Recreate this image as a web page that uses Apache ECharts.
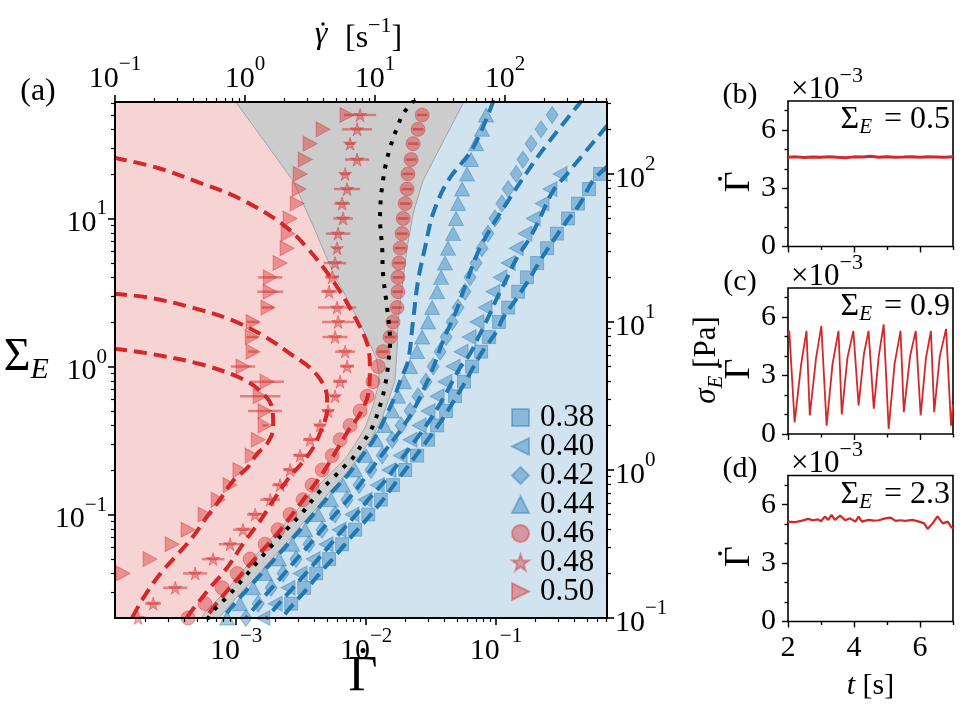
<!DOCTYPE html>
<html><head><meta charset="utf-8">
<script src="https://cdn.jsdelivr.net/npm/echarts@6/dist/echarts.min.js"></script>
<style>html,body{margin:0;padding:0;background:#fff}#c{width:960px;height:720px}</style>
</head><body><div id="c"></div>
<script>
// ---------- DATA (Gamma_dot, Sigma_E) ----------
const phi038 = [[2.65e-3,0.025],[3.34e-3,0.032],[4.13e-3,0.04],[5.19e-3,0.05],[6.54e-3,0.063],[8.23e-3,0.079],[1.04e-2,0.1],[1.3e-2,0.126],[1.61e-2,0.158],[2.0e-2,0.2],[2.47e-2,0.25],[3.0e-2,0.32],[3.52e-2,0.4],[4.13e-2,0.5],[4.84e-2,0.63],[5.67e-2,0.79],[6.54e-2,1],[7.67e-2,1.26],[8.84e-2,1.58],[0.1055,2],[0.124,2.5],[0.148,3.2],[0.173,4],[0.207,5],[0.247,6.3],[0.294,7.9],[0.358,10],[0.427,12.6],[0.519,15.8],[0.631,20]];
const phi040 = [[1.61e-3,0.02],[2.0e-3,0.025],[2.51e-3,0.032],[3.11e-3,0.04],[3.91e-3,0.05],[4.92e-3,0.063],[6.2e-3,0.079],[7.8e-3,0.1],[9.82e-3,0.126],[1.22e-2,0.158],[1.5e-2,0.2],[1.83e-2,0.25],[2.18e-2,0.32],[2.56e-2,0.4],[3.0e-2,0.5],[3.52e-2,0.63],[4.05e-2,0.79],[4.67e-2,1],[5.38e-2,1.26],[6.2e-2,1.58],[7.14e-2,2],[8.23e-2,2.5],[9.48e-2,3.2],[0.107,4],[0.124,5],[0.143,6.3],[0.167,7.9],[0.193,10],[0.226,12.6],[0.26,15.8],[0.311,20]];
const phi042 = [[1.19e-3,0.02],[1.48e-3,0.025],[1.86e-3,0.032],[2.3e-3,0.04],[2.89e-3,0.05],[3.64e-3,0.063],[4.59e-3,0.079],[5.77e-3,0.1],[7.14e-3,0.126],[8.84e-3,0.158],[1.09e-2,0.2],[1.33e-2,0.25],[1.59e-2,0.32],[1.86e-2,0.4],[2.18e-2,0.5],[2.51e-2,0.63],[2.89e-2,0.79],[3.28e-2,1],[3.71e-2,1.26],[4.13e-2,1.58],[4.59e-2,2],[5.1e-2,2.5],[5.77e-2,3.2],[6.31e-2,4],[7.02e-2,5],[7.8e-2,6.3],[8.67e-2,7.9],[9.82e-2,10],[0.111,12.6],[0.124,15.8],[0.143,20],[0.161,25],[0.186,32],[0.222,40],[0.27,50],[0.34,63]];
const phi044 = [[8.53e-4,0.02],[1.07e-3,0.025],[1.35e-3,0.032],[1.67e-3,0.04],[2.14e-3,0.05],[2.7e-3,0.063],[3.4e-3,0.079],[4.27e-3,0.1],[5.38e-3,0.126],[6.65e-3,0.158],[8.23e-3,0.2],[1.0e-2,0.25],[1.19e-2,0.32],[1.38e-2,0.4],[1.59e-2,0.5],[1.76e-2,0.63],[1.96e-2,0.79],[2.18e-2,1],[2.47e-2,1.26],[2.7e-2,1.58],[3.0e-2,2],[3.22e-2,2.5],[3.52e-2,3.2],[3.78e-2,4],[4.05e-2,5],[4.27e-2,6.3],[4.67e-2,7.9],[4.92e-2,10],[5.1e-2,12.6],[5.48e-2,15.8],[5.98e-2,20],[6.42e-2,25],[7.02e-2,32],[7.8e-2,40],[8.38e-2,50],[9.31e-2,63]];
const phi046 = [[4.27e-4,0.02],[5.77e-4,0.025],[7.8e-4,0.032],[1.02e-3,0.04],[1.28e-3,0.05],[1.67e-3,0.063],[2.1e-3,0.079],[2.6e-3,0.1],[3.28e-3,0.126],[3.84e-3,0.158],[4.59e-3,0.2],[5.48e-3,0.25],[6.31e-3,0.32],[7.53e-3,0.4],[8.99e-3,0.5],[1.02e-2,0.63],[1.13e-2,0.79],[1.24e-2,1],[1.35e-2,1.26],[1.53e-2,1.58],[1.61e-2,2],[1.73e-2,2.5],[1.76e-2,3.2],[1.76e-2,4],[1.79e-2,5],[1.83e-2,6.3],[1.89e-2,7.9],[1.93e-2,10],[2.0e-2,12.6],[2.07e-2,15.8],[2.1e-2,20],[2.22e-2,25],[2.3e-2,32],[2.51e-2,40],[2.7e-2,50],[3.11e-2,63]];
const phi048 = [[1.76e-4,0.02],[2.3e-4,0.025],[3.4e-4,0.032],[4.84e-4,0.04],[6.65e-4,0.05],[8.99e-4,0.063],[1.13e-3,0.079],[1.4e-3,0.1],[1.83e-3,0.126],[2.18e-3,0.158],[2.6e-3,0.2],[3.11e-3,0.25],[3.71e-3,0.32],[4.43e-3,0.4],[5.1e-3,0.5],[5.77e-3,0.63],[6.31e-3,0.79],[7.14e-3,1],[6.9e-3,1.26],[5.77e-3,1.58],[6.09e-3,2],[5.98e-3,2.5],[5.19e-3,3.2],[5.48e-3,4],[5.77e-3,5],[5.98e-3,6.3],[6.09e-3,7.9],[6.65e-3,10],[6.54e-3,12.6],[7.14e-3,15.8],[6.9e-3,20],[8.53e-3,25],[7.53e-3,32],[8.53e-3,40],[8.99e-3,50],[1.28e-2,63]];
const phi050 = [[1.35e-4,0.04],[2.18e-4,0.05],[3.22e-4,0.063],[4.27e-4,0.079],[5.77e-4,0.1],[7.27e-4,0.126],[8.99e-4,0.158],[1.07e-3,0.2],[1.33e-3,0.25],[1.48e-3,0.32],[1.67e-3,0.4],[1.67e-3,0.5],[1.53e-3,0.63],[1.73e-3,0.79],[1.13e-3,1],[1.35e-3,1.26],[1.33e-3,1.58],[1.35e-3,2],[1.76e-3,2.5],[1.83e-3,3.2],[1.83e-3,4],[2.18e-3,5],[2.47e-3,6.3],[2.51e-3,7.9],[2.6e-3,10],[2.95e-3,12.6],[3.05e-3,15.8],[3.11e-3,20],[3.4e-3,25],[3.71e-3,32],[4.67e-3,40],[7.14e-3,50],[9.8e-3,63]];

// horizontal error bars: multiplicative half-width factor per point
const err046 = [1,1,1,1,1,1,1,1,1,1,1,1,1,1,1,1,1,1,1.1,1.1,1.1,1.1,1.1,1.1,1.1,1.1,1.1,1.1,1.1,1.1,1.1,1.1,1.1,1.1,1.1,1.1];
const err048 = [1.1,1.15,1.24,1.24,1.22,1.22,1.19,1.15,1.19,1.15,1.13,1.13,1.13,1.11,1.11,1.09,1.13,1.13,1.19,1.25,1.33,1.4,1.15,1.13,1.22,1.07,1.24,1.19,1.15,1.26,1.09,1.24,1.09,1.3,1.33,1];
const err050 = [1,1,1,1,1,1,1,1,1,1,1.05,1.35,1.43,1.35,1.24,1.09,1.11,1.11,1.11,1.26,1.24,1,1,1,1,1,1,1,1,1,1,1,1];

// model curves
const fit038 = [[0.714,22.3],[0.557,18.0],[0.443,12.6],[0.352,9.65],[0.275,7.07],[0.218,5.18],[0.1826,3.97],[0.145,2.91],[0.1132,2.13],[0.1018,1.74],[7.94e-2,1.28],[6.65e-2,0.98],[5.57e-2,0.741],[4.59e-2,0.560],[3.71e-2,0.417],[2.94e-2,0.315],[2.26e-2,0.231],[1.73e-2,0.169],[1.33e-2,0.124],[1.02e-2,0.0936],[7.80e-3,0.0718],[5.98e-3,0.0543],[4.43e-3,0.0403],[3.40e-3,0.0305],[2.60e-3,0.0234],[2.22e-3,0.0197]];
const fit040 = [[0.714,42.3],[0.352,20.0],[0.275,15.4],[0.218,10.1],[0.1826,7.41],[0.145,5.43],[0.1215,3.97],[0.1018,2.91],[8.67e-2,2.13],[7.53e-2,1.66],[6.31e-2,1.22],[5.28e-2,0.98],[4.43e-2,0.741],[3.71e-2,0.560],[3.00e-2,0.417],[2.38e-2,0.315],[1.83e-2,0.231],[1.40e-2,0.169],[1.07e-2,0.130],[8.23e-3,0.098],[6.31e-3,0.0752],[4.84e-3,0.0568],[3.58e-3,0.0417],[2.70e-3,0.0315],[2.0e-3,0.0234],[1.70e-3,0.0197]];
const fit042 = [[0.46,63],[0.218,27.4],[0.1073,10.8],[7.53e-2,6.34],[5.98e-2,3.79],[4.84e-2,2.27],[3.91e-2,1.49],[3.28e-2,0.98],[2.74e-2,0.685],[2.30e-2,0.502],[1.83e-2,0.368],[1.40e-2,0.270],[1.07e-2,0.197],[8.23e-3,0.1445],[6.31e-3,0.1094],[4.84e-3,0.0838],[3.71e-3,0.0634],[2.84e-3,0.0486],[2.10e-3,0.0356],[1.585e-3,0.0269],[1.19e-3,0.0200]];
const fit044 = [[0.096,63],[0.0665,30.0],[4.27e-2,18.0],[3.28e-2,10.8],[2.84e-2,6.34],[2.51e-2,3.79],[2.30e-2,2.04],[2.10e-2,1.09],[1.83e-2,0.80],[1.61e-2,0.586],[1.40e-2,0.451],[1.17e-2,0.330],[9.31e-3,0.249],[7.14e-3,0.183],[5.57e-3,0.1445],[4.59e-3,0.118],[3.40e-3,0.0865],[2.51e-3,0.0634],[1.83e-3,0.0464],[1.33e-3,0.034],[9.82e-4,0.0253],[7.80e-4,0.0197]];
const fit046 = [[1.15e-4,25.7],[2.47e-4,22.0],[5.28e-4,17.4],[1.07e-3,13.6],[2.26e-3,9.2],[3.52e-3,6.34],[5.57e-3,3.79],[7.94e-3,2.27],[1.02e-2,1.42],[1.07e-2,0.98],[1.04e-2,0.654],[9.0e-3,0.479],[7.28e-3,0.367],[5.78e-3,0.261],[4.59e-3,0.188],[3.11e-3,0.118],[2.07e-3,0.0741],[1.35e-3,0.0486],[9.48e-4,0.034],[6.65e-4,0.0234],[5.78e-4,0.0197]];
const fit048 = [[1.15e-4,3.1],[2.18e-4,2.91],[4.67e-4,2.49],[9.48e-4,2.04],[1.73e-3,1.56],[2.6e-3,1.22],[3.71e-3,0.98],[4.67e-3,0.764],[5.01e-3,0.615],[5.01e-3,0.502],[4.59e-3,0.385],[3.91e-3,0.282],[3.22e-3,0.224],[2.51e-3,0.174],[2.0e-3,0.13],[1.53e-3,0.0906],[1.13e-3,0.0634],[8.53e-4,0.0437],[6.31e-4,0.032],[4.43e-4,0.0217],[4.12e-4,0.0197]];
const fit050 = [[1.15e-4,1.32],[2.18e-4,1.22],[5.28e-4,1.04],[1.07e-3,0.839],[1.53e-3,0.685],[1.89e-3,0.526],[1.93e-3,0.385],[1.73e-3,0.301],[1.45e-3,0.257],[1.22e-3,0.207],[9.48e-4,0.169],[7.4e-4,0.124],[5.88e-4,0.095],[4.59e-4,0.0697],[3.58e-4,0.0543],[2.6e-4,0.0397],[1.93e-4,0.0273],[1.58e-4,0.02],[1.55e-4,0.0195]];
const critical = [[6.0e-4,0.0195],[6.65e-4,0.0223],[8.68e-4,0.0282],[1.13e-3,0.0367],[1.48e-3,0.0486],[1.93e-3,0.0634],[2.47e-3,0.08],[3.22e-3,0.1026],[4.43e-3,0.1445],[5.48e-3,0.174],[6.65e-3,0.207],[7.94e-3,0.242],[9.31e-3,0.30],[1.11e-2,0.385],[1.28e-2,0.543],[1.40e-2,0.741],[1.48e-2,1.04],[1.53e-2,1.49],[1.45e-2,2.49],[1.35e-2,4.23],[1.33e-2,6.34],[1.28e-2,9.95],[1.30e-2,13.8],[1.35e-2,18.0],[1.40e-2,22.0],[1.53e-2,30.1],[1.73e-2,41.0],[1.93e-2,50.9],[2.26e-2,60.5],[2.4e-2,64]];

// region boundaries
const boundaryRedGray = [[9.6e-4,64],[1.64e-3,33.5],[2.74e-3,18.0],[3.91e-3,8.93],[5.57e-3,4.30],[7.8e-3,2.49],[1.02e-2,1.56],[1.19e-2,1.15],[1.26e-2,0.9],[1.24e-2,0.741],[1.13e-2,0.543],[9.82e-3,0.385],[8.23e-3,0.30],[7.02e-3,0.242],[5.88e-3,0.207],[4.84e-3,0.174],[3.91e-3,0.1445],[2.84e-3,0.1026],[2.18e-3,0.080],[1.70e-3,0.0634],[1.30e-3,0.0486],[1.0e-3,0.0367],[7.67e-4,0.0282],[5.88e-4,0.0223],[5.2e-4,0.019]];
const boundaryGrayBlue = [[5.8e-2,64],[3.71e-2,30.1],[2.74e-2,18.0],[2.30e-2,10.8],[2.07e-2,6.34],[1.89e-2,3.40],[1.76e-2,2.04],[1.73e-2,1.28],[1.67e-2,0.80],[1.48e-2,0.586],[1.33e-2,0.451],[1.11e-2,0.330],[9.48e-3,0.270],[7.80e-3,0.213],[6.31e-3,0.169],[5.10e-3,0.138],[4.20e-3,0.111],[3.27e-3,0.0879],[2.51e-3,0.0664],[1.83e-3,0.0486],[1.33e-3,0.0356],[1.0e-3,0.0273],[7.0e-4,0.019]];

// side panels: t [s], Gamma_dot x 1e-3
const panelB = [[2,4.6],[2.25,4.62],[2.5,4.59],[2.75,4.61],[3,4.6],[3.25,4.63],[3.5,4.6],[3.75,4.58],[4,4.62],[4.25,4.61],[4.5,4.65],[4.75,4.6],[5,4.62],[5.25,4.6],[5.5,4.61],[5.75,4.63],[6,4.6],[6.25,4.62],[6.5,4.61],[6.75,4.6],[7,4.62]];
const panelC = [[2.0,5.1],[2.04,5.3],[2.2,0.6],[2.4,3.6],[2.56,5.3],[2.66,0.95],[2.85,3.9],[3.01,5.55],[3.17,0.43],[3.35,3.6],[3.53,5.3],[3.63,1.0],[3.8,3.9],[3.98,5.3],[4.14,1.47],[4.3,4.1],[4.44,5.3],[4.6,1.3],[4.75,4.0],[4.9,5.63],[5.05,0.26],[5.23,3.6],[5.41,5.3],[5.51,1.12],[5.7,4.0],[5.87,5.3],[6.02,0.95],[6.18,3.9],[6.33,5.3],[6.43,1.12],[6.6,4.0],[6.79,5.4],[6.94,0.43],[7.0,1.5]];
const panelD = [[2.0,5.13],[2.2,5.1],[2.4,5.17],[2.61,5.27],[2.75,5.2],[2.91,5.25],[3.0,5.15],[3.12,5.39],[3.22,5.22],[3.32,5.48],[3.42,5.22],[3.58,5.44],[3.73,5.2],[3.88,5.3],[4.04,5.13],[4.14,5.39],[4.24,5.13],[4.44,5.22],[4.6,5.18],[4.75,5.2],[4.95,5.3],[5.11,5.34],[5.26,5.17],[5.4,5.2],[5.56,5.17],[5.77,5.22],[5.97,5.13],[6.13,5.04],[6.23,4.75],[6.38,5.04],[6.53,5.4],[6.69,5.04],[6.84,5.13],[6.94,4.87],[7.0,4.78]];

const legendNames = ['0.38','0.40','0.42','0.44','0.46','0.48','0.50'];
const panelTexts = ['0.5','0.9','2.3'];
const panelLetters = ['(b)','(c)','(d)'];

// ticks
const bottomMajor = [1e-3,1e-2,1e-1];
const leftMajor = [1e-1,1,10];
const topMajor = [0.1,1,10,100];
const rightMajor = [0.1,1,10,100];
const minorMult = [2,3,4,5,6,7,8,9];
const tMajor = [2,4,6], tMinor = [3,5,7];
const vMajor = [0,3,6], vMinor = [1,2,4,5,7];

// ---------- STYLE ----------
const X_MIN = 1.17e-4, X_MAX = 0.714, Y_MIN = 0.02, Y_MAX = 61.2;
const G_MIN = 0.1, G_MAX = 610, S_MIN = 0.1, S_MAX = 306;
const F = "'Liberation Serif', 'DejaVu Serif', serif";
const BLUE = 'rgba(31,119,180,0.5)', RED = 'rgba(214,39,40,0.5)';
const SYM_LEFT = 'path://M0,50 L100,0 L100,100 Z';
const SYM_RIGHT = 'path://M100,50 L0,0 L0,100 Z';
const SYM_STAR = 'path://M50,0 L61.8,35.3 L98.1,35.3 L68.7,57.1 L79.4,91.9 L50,70.5 L20.6,91.9 L31.3,57.1 L1.9,35.3 L38.2,35.3 Z';

function minorTicks(lo, hi) {
  const out = [];
  for (let e = -5; e <= 3; e++) minorMult.forEach(m => { const v = m * Math.pow(10, e); if (v > lo * 1.0001 && v < hi * 0.9999) out.push(v); });
  return out;
}
function powLabel(v) { const e = Math.round(Math.log10(v)); return '{b|10}{s|' + (e < 0 ? '\u2212' : '') + Math.abs(e) + '}'; }
const RICH_POW = {
  b: {fontFamily: F, fontSize: 30, lineHeight: 40, verticalAlign: 'bottom', color: '#000'},
  s: {fontFamily: F, fontSize: 21, lineHeight: 14, verticalAlign: 'top', color: '#000'}
};
const AX = {color: '#000', width: 2};

function mainAxis(pos, min, max, major, withLabels, name, nameOpts) {
  const isMinor = !withLabels;
  const o = {
    type: 'log', logBase: 10, gridIndex: 0, position: pos, min, max, z: 10,
    axisLine: {show: !isMinor, onZero: false, lineStyle: AX},
    axisTick: {show: true, length: isMinor ? 4 : 7, lineStyle: {color: '#000', width: isMinor ? 1.2 : 1.6}, customValues: major},
    axisLabel: {show: withLabels, customValues: major, formatter: powLabel, rich: RICH_POW, margin: 8},
    splitLine: {show: false}, minorTick: {show: false}, axisPointer: {show: false}
  };
  if (name) Object.assign(o, {name}, nameOpts);
  return o;
}
function panelAxis(grid, major, isMinor, labels, extra) {
  return Object.assign({
    type: 'value', gridIndex: grid, z: 10,
    axisLine: {show: false, onZero: false},
    axisTick: {show: true, length: isMinor ? 3.5 : 6, lineStyle: {color: '#000', width: 1.4}, customValues: major},
    axisLabel: {show: labels, customValues: major, fontFamily: F, fontSize: 30, color: '#000', margin: 12},
    splitLine: {show: false}
  }, extra);
}

const xAxes = [
  mainAxis('bottom', X_MIN, X_MAX, bottomMajor, true),
  mainAxis('bottom', X_MIN, X_MAX, minorTicks(X_MIN, X_MAX), false),
  mainAxis('top', G_MIN, G_MAX, topMajor, true),
  mainAxis('top', G_MIN, G_MAX, minorTicks(G_MIN, G_MAX), false)
];
const yAxes = [
  mainAxis('left', Y_MIN, Y_MAX, leftMajor, true, '{S|\u03a3}{E|E}', {
    nameLocation: 'middle', nameGap: 52, nameRotate: 0,
    nameTextStyle: {rich: {
      S: {fontFamily: F, fontSize: 46, lineHeight: 50, verticalAlign: 'top', color: '#000'},
      E: {fontFamily: F, fontSize: 30, fontStyle: 'italic', lineHeight: 22, verticalAlign: 'bottom', color: '#000'}}}}),
  mainAxis('left', Y_MIN, Y_MAX, minorTicks(Y_MIN, Y_MAX), false),
  mainAxis('right', S_MIN, S_MAX, rightMajor, true, '{i|\u03c3}{e|E}{r| [Pa]}', {
    nameLocation: 'middle', nameGap: 84, nameRotate: 90,
    nameTextStyle: {rich: {
      i: {fontFamily: F, fontSize: 31, fontStyle: 'italic', lineHeight: 36, verticalAlign: 'top', color: '#000'},
      e: {fontFamily: F, fontSize: 21, fontStyle: 'italic', lineHeight: 18, verticalAlign: 'bottom', color: '#000'},
      r: {fontFamily: F, fontSize: 31, lineHeight: 36, verticalAlign: 'top', color: '#000'}}}}),
  mainAxis('right', S_MIN, S_MAX, minorTicks(S_MIN, S_MAX), false)
];
for (let g = 1; g <= 3; g++) {
  const last = g === 3;
  xAxes.push(panelAxis(g, tMajor, false, last, Object.assign({min: 2, max: 7, position: 'bottom'},
    last ? {name: '{t|t}{r| [s]}', nameLocation: 'middle', nameGap: 50,
      nameTextStyle: {rich: {t: {fontFamily: F, fontSize: 30, fontStyle: 'italic', color: '#000'}, r: {fontFamily: F, fontSize: 30, color: '#000'}}}} : {})));
  xAxes.push(panelAxis(g, tMinor, true, false, {min: 2, max: 7, position: 'bottom'}));
  // rotated Gamma label (its over-dot is added as a graphic)
  yAxes.push(panelAxis(g, vMajor, false, true, {min: 0, max: 7.5, position: 'left',
    name: '{g|\u0393}', nameLocation: 'middle', nameGap: 23, nameRotate: 90,
    nameTextStyle: {rich: {g: {fontFamily: F, fontSize: 36, lineHeight: 36, color: '#000', padding: [0, 16, 0, 0]}}}}));
  yAxes.push(panelAxis(g, vMinor, true, false, {min: 0, max: 7.5, position: 'left'}));
}

// ---------- SERIES ----------
function scatter(name, data, symbol, size, color) {
  return {name, type: 'scatter', xAxisIndex: 0, yAxisIndex: 0, data, symbol, symbolSize: size,
    itemStyle: {color, borderColor: color, borderWidth: 1}, z: 4, silent: true, clip: true};
}
function errBars(pts, errs, color) {
  const data = pts.map((p, i) => [p[0], p[1], errs[i]]).filter(d => d[2] > 1);
  return {type: 'custom', xAxisIndex: 0, yAxisIndex: 0, data, clip: true, z: 3, silent: true,
    encode: {x: 0, y: 1},
    renderItem: (params, api) => {
      const x = api.value(0), y = api.value(1), f = api.value(2);
      const a = api.coord([x / f, y]), b = api.coord([x * f, y]);
      return {type: 'line', shape: {x1: a[0], y1: a[1], x2: b[0], y2: b[1]}, style: {stroke: color, lineWidth: 2.5}};
    }};
}
function region(pts, fill, stroke) {
  return {type: 'custom', xAxisIndex: 0, yAxisIndex: 0, data: [[1e-3, 1]], encode: {x: 0, y: 1}, clip: true, z: 1, silent: true,
    renderItem: (params, api) => ({type: 'polygon', shape: {points: pts.map(p => api.coord(p))},
      style: {fill, stroke: stroke || null, lineWidth: 1}})};
}
function fitLine(data, color, dash, width, z) {
  return {type: 'line', xAxisIndex: 0, yAxisIndex: 0, data, symbol: 'none', smooth: 0.35,
    lineStyle: {color, width, type: dash, cap: 'butt'}, z: z || 6, silent: true, clip: true};
}

const pinkPoly = [[1e-4, 80]].concat(boundaryRedGray, [[1e-4, 0.01]]);
const grayPoly = boundaryRedGray.concat(boundaryGrayBlue.slice().reverse());

const series = [
  region(pinkPoly, '#f7d4d4'),
  region(grayPoly, '#cccccc', '#a5a5a5'),
  errBars(phi046, err046, 'rgba(214,39,40,0.6)'),
  errBars(phi048, err048, 'rgba(214,39,40,0.5)'),
  errBars(phi050, err050, 'rgba(214,39,40,0.5)'),
  scatter('0.38', phi038, 'rect', 13, BLUE),
  scatter('0.40', phi040, SYM_LEFT, [14, 15], BLUE),
  scatter('0.42', phi042, 'diamond', [12, 17], BLUE),
  scatter('0.44', phi044, 'triangle', [15, 14], BLUE),
  scatter('0.46', phi046, 'circle', 14, RED),
  scatter('0.48', phi048, SYM_STAR, 13, RED),
  scatter('0.50', phi050, SYM_RIGHT, [14, 15], RED),
  fitLine(fit038, '#1f77b4', [13, 7], 4),
  fitLine(fit040, '#1f77b4', [13, 7], 4),
  fitLine(fit042, '#1f77b4', [13, 7], 4),
  fitLine(fit044, '#1f77b4', [13, 7], 4),
  fitLine(fit046, '#d62728', [13, 7], 4),
  fitLine(fit048, '#d62728', [13, 7], 4),
  fitLine(fit050, '#d62728', [13, 7], 4),
  fitLine(critical, '#000', [4, 8], 4, 7),
  {type: 'line', xAxisIndex: 4, yAxisIndex: 4, data: panelB, symbol: 'none', lineStyle: {color: '#d62728', width: 3}, silent: true},
  {type: 'line', xAxisIndex: 6, yAxisIndex: 6, data: panelC, symbol: 'none', lineStyle: {color: '#d62728', width: 1.8}, silent: true},
  {type: 'line', xAxisIndex: 8, yAxisIndex: 8, data: panelD, symbol: 'none', lineStyle: {color: '#d62728', width: 2.2}, silent: true}
];

// ---------- TEXT ----------
const panelTops = [101, 288, 475.5], panelH = [145.5, 146, 146];
const graphics = [
  {type: 'text', x: 38, y: 92, style: {text: '(a)', fontFamily: F, fontSize: 32, fill: '#000', align: 'center', verticalAlign: 'middle'}},
  // bottom axis title: Gamma with over-dot
  {type: 'text', x: 363, y: 677, style: {text: '\u0393', fontFamily: F, fontSize: 50, fill: '#000', align: 'center', verticalAlign: 'middle'}},
  {type: 'circle', shape: {cx: 363, cy: 650.5, r: 2.5}, style: {fill: '#000'}},
  // top axis title: gamma-dot [s^-1]
  {type: 'text', x: 321, y: 35, style: {text: '\u03b3', fontFamily: F, fontSize: 32, fontStyle: 'italic', fill: '#000', align: 'center', verticalAlign: 'middle'}},
  {type: 'circle', shape: {cx: 323, cy: 24, r: 1.7}, style: {fill: '#000'}},
  {type: 'text', x: 345, y: 35, style: {text: '{r|[s}{s|\u22121}{r|]}', align: 'left', verticalAlign: 'middle',
    rich: {r: {fontFamily: F, fontSize: 32, lineHeight: 40, verticalAlign: 'bottom', fill: '#000'},
      s: {fontFamily: F, fontSize: 22, lineHeight: 14, verticalAlign: 'top', fill: '#000'}}}}
];
panelTops.forEach((top, i) => {
  const mid = top + panelH[i] / 2;
  graphics.push({type: 'circle', shape: {cx: 720, cy: mid + 5, r: 1.9}, style: {fill: '#000'}});
  graphics.push({type: 'text', x: 740, y: top - 6, style: {text: panelLetters[i], fontFamily: F, fontSize: 30, fill: '#000', align: 'center', verticalAlign: 'middle'}});
  graphics.push({type: 'text', x: 791, y: top - 36, style: {text: '{b|\u00d710}{s|\u22123}', align: 'left', verticalAlign: 'top',
    rich: {b: {fontFamily: F, fontSize: 31, lineHeight: 40, verticalAlign: 'bottom', fill: '#000'}, s: {fontFamily: F, fontSize: 22, lineHeight: 14, verticalAlign: 'top', fill: '#000'}}}});
  graphics.push({type: 'text', x: 950, y: top + 20, style: {text: '{S|\u03a3}{E|E}{r| = ' + panelTexts[i] + '}', align: 'right', verticalAlign: 'middle',
    rich: {S: {fontFamily: F, fontSize: 32, lineHeight: 34, verticalAlign: 'top', fill: '#000'},
      E: {fontFamily: F, fontSize: 21, fontStyle: 'italic', lineHeight: 16, verticalAlign: 'bottom', fill: '#000', padding: [0, 4, 0, 0]},
      r: {fontFamily: F, fontSize: 32, lineHeight: 34, verticalAlign: 'top', fill: '#000'}}}});
});

const option = {
  animation: false,
  backgroundColor: '#fff',
  grid: [
    {left: 115, top: 102, width: 492, height: 516, show: true, backgroundColor: '#d2e3f0', borderWidth: 0},
    {left: 788, top: panelTops[0], width: 165, height: panelH[0], show: true, borderColor: '#000', borderWidth: 1.6, backgroundColor: '#fff'},
    {left: 788, top: panelTops[1], width: 165, height: panelH[1], show: true, borderColor: '#000', borderWidth: 1.6, backgroundColor: '#fff'},
    {left: 788, top: panelTops[2], width: 165, height: panelH[2], show: true, borderColor: '#000', borderWidth: 1.6, backgroundColor: '#fff'}
  ],
  xAxis: xAxes,
  yAxis: yAxes,
  legend: {data: legendNames, orient: 'vertical', left: 506, top: 397, itemWidth: 17, itemHeight: 17, itemGap: -2,
    selectedMode: false, z: 20,
    textStyle: {fontFamily: F, fontSize: 31, lineHeight: 26, color: '#000', padding: [0, 0, 0, 6]}},
  graphic: graphics,
  series
};
echarts.init(document.getElementById('c'), null, {renderer: 'canvas'}).setOption(option);
</script></body></html>
